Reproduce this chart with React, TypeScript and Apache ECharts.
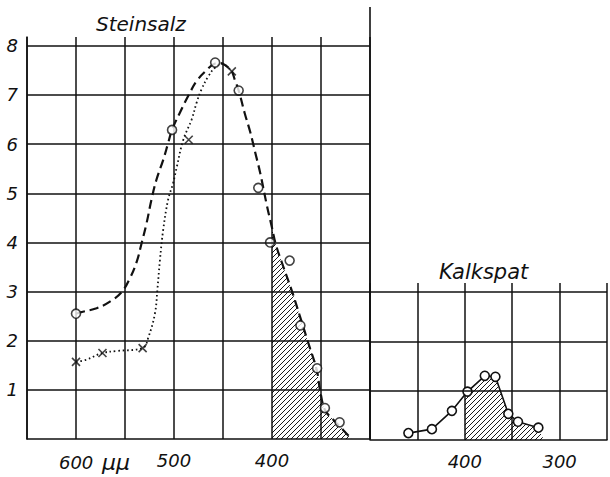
import React, { useEffect, useRef } from 'react';
import * as echarts from 'echarts';

// ---------- axis ticks / labels ----------
const yTicksLeft = [1, 2, 3, 4, 5, 6, 7, 8];
const yTicksRight = [1, 2, 3];
const xLabelsLeft = [600, 500, 400];
const xLabelsRight = [400, 300];

// ---------- Steinsalz: dashed curve ----------
const saltDashNm = [600, 593, 579, 565, 553, 545, 538, 533, 528, 523, 518, 511, 506, 502, 494, 485, 477, 468, 458, 453, 446, 441, 438, 434, 428, 422, 417, 412, 405, 400, 396, 388.5, 380, 371.4, 362.9, 354.4, 351, 345.9, 337.4, 327.2, 319];
const saltDashVal = [2.55, 2.59, 2.66, 2.8, 3.0, 3.27, 3.61, 3.99, 4.39, 4.87, 5.27, 5.68, 6.02, 6.29, 6.64, 7.0, 7.28, 7.48, 7.64, 7.65, 7.58, 7.48, 7.31, 7.09, 6.64, 6.23, 5.82, 5.41, 4.73, 4.3, 3.95, 3.51, 3.03, 2.49, 1.95, 1.41, 1.0, 0.59, 0.39, 0.18, 0];

// Steinsalz: dotted curve
const saltDotNm = [600, 590, 573, 558.5, 532, 526, 519.4, 517, 514.3, 511, 506, 501, 497, 490.5, 482, 477, 472, 465, 458, 451, 446, 441];
const saltDotVal = [1.57, 1.61, 1.75, 1.79, 1.85, 2.08, 2.56, 3.03, 3.65, 4.26, 4.87, 5.2, 5.55, 6.09, 6.5, 6.84, 7.11, 7.38, 7.56, 7.64, 7.58, 7.48];

// Steinsalz: measured points
const saltCircleNm = [600, 502, 458, 434, 414, 402, 382, 371, 354, 346, 331];
const saltCircleVal = [2.55, 6.29, 7.66, 7.09, 5.11, 4.0, 3.63, 2.31, 1.44, 0.63, 0.34];
const saltCrossNm = [600, 573, 532, 485, 441];
const saltCrossVal = [1.57, 1.75, 1.85, 6.09, 7.48];

// ---------- Kalkspat ----------
const calcNm = [459.5, 434.7, 413.6, 397.2, 378.9, 367.7, 354.1, 343.9, 322.4];
const calcVal = [0.14, 0.22, 0.59, 0.98, 1.3, 1.28, 0.53, 0.37, 0.25];
const calcHatchNm = [400, 397.2, 378.9, 367.7, 354.1, 343.9, 322.4, 316.6];
const calcHatchVal = [0.92, 0.98, 1.3, 1.28, 0.53, 0.37, 0.25, 0];

const zip = (a: number[], b: number[]) => a.map((v, i) => [v, b[i]]);

const FONT = 'DejaVu Sans';
const BLACK = '#111';

// layout of the two panels
const LEFT_X = 27;
const LEFT_W = 343;
const LEFT_TOP = 37;
const LEFT_H = 402;

export default function App() {
  const ref = useRef<HTMLDivElement>(null);

  useEffect(() => {
    document.body.style.margin = '0';
    const chart = echarts.init(ref.current!, null, { renderer: 'svg' });

    const c = document.createElement('canvas');
    c.width = 5;
    c.height = 5;
    const ctx = c.getContext('2d')!;
    ctx.strokeStyle = '#000';
    ctx.lineWidth = 0.9;
    ctx.beginPath();
    ctx.moveTo(-1, 6); ctx.lineTo(6, -1);
    ctx.moveTo(-1, 1); ctx.lineTo(1, -1);
    ctx.moveTo(4, 6); ctx.lineTo(6, 4);
    ctx.stroke();
    const hatch: any = { image: c, repeat: 'repeat', imageWidth: 5, imageHeight: 5 };

    const saltDash = zip(saltDashNm, saltDashVal);
    const saltHatch = saltDash.filter((p) => p[0] <= 400);

    const gridLine = { color: BLACK, width: 1.5, type: 'solid' as const };
    const labelBase = { color: BLACK, fontFamily: FONT, fontStyle: 'italic' as const };

    const option: any = {
      animation: false,
      backgroundColor: '#fff',
      title: [
        { text: 'Steinsalz', left: 96, top: 14, padding: 0, textStyle: { ...labelBase, fontSize: 20, fontWeight: 'normal' } },
        { text: 'Kalkspat', left: 439, top: 261, padding: 0, textStyle: { ...labelBase, fontSize: 21, fontWeight: 'normal' } },
      ],
      graphic: [
        {
          type: 'line', silent: true, z: 10,
          shape: { x1: LEFT_X + LEFT_W, y1: 7, x2: LEFT_X + LEFT_W, y2: LEFT_TOP + LEFT_H },
          style: { stroke: BLACK, lineWidth: 1.6 },
        },
      ],
      grid: [
        { left: LEFT_X, top: LEFT_TOP, width: LEFT_W, height: LEFT_H },
        { left: LEFT_X + LEFT_W, top: 283, width: 245, height: 157 },
      ],
      xAxis: [
        {
          gridIndex: 0, type: 'value', min: 300, max: 650, interval: 50, inverse: true,
          axisLine: { show: true, lineStyle: gridLine },
          axisTick: { show: false },
          splitLine: { show: true, lineStyle: gridLine },
          axisLabel: {
            ...labelBase, fontSize: 18, margin: 12,
            formatter: (v: number) => (v === 600 ? '{pad|}600 {u|μμ}' : xLabelsLeft.includes(v) ? String(v) : ''),
            rich: {
              pad: { width: 40 },
              u: { ...labelBase, fontSize: 22, width: 34 },
            },
          },
        },
        {
          gridIndex: 1, type: 'value', min: 250, max: 500, interval: 50, inverse: true,
          axisLine: { show: true, lineStyle: gridLine },
          axisTick: { show: false },
          splitLine: { show: true, lineStyle: gridLine },
          axisLabel: {
            ...labelBase, fontSize: 18, margin: 12,
            formatter: (v: number) => (xLabelsRight.includes(v) ? String(v) : ''),
          },
        },
      ],
      yAxis: [
        {
          gridIndex: 0, type: 'value', min: 0, max: 8.18, interval: 1,
          axisLine: { show: true, lineStyle: gridLine },
          axisTick: { show: false },
          splitLine: { show: false },
          axisLabel: {
            ...labelBase, fontSize: 18, margin: 9,
            formatter: (v: number) => (yTicksLeft.includes(v) ? String(v) : ''),
          },
        },
        {
          gridIndex: 1, type: 'value', min: 0, max: 3.18, interval: 1,
          axisLine: { show: false },
          axisTick: { show: false },
          splitLine: { show: false },
          axisLabel: { show: false },
        },
      ],
      series: [
        {
          name: 'gridLeft', type: 'line', xAxisIndex: 0, yAxisIndex: 0, data: [], z: 1, silent: true,
          markLine: {
            silent: true, symbol: ['none', 'none'], label: { show: false }, lineStyle: gridLine,
            emphasis: { disabled: true },
            data: yTicksLeft.map((v) => ({ yAxis: v })),
          },
        },
        {
          name: 'gridRight', type: 'line', xAxisIndex: 1, yAxisIndex: 1, data: [], z: 1, silent: true,
          markLine: {
            silent: true, symbol: ['none', 'none'], label: { show: false }, lineStyle: gridLine,
            emphasis: { disabled: true },
            data: yTicksRight.map((v) => ({ yAxis: v })),
          },
        },
        {
          name: 'saltHatch', type: 'line', xAxisIndex: 0, yAxisIndex: 0, z: 2, silent: true,
          data: saltHatch, smooth: 0.4, showSymbol: false,
          lineStyle: { opacity: 0 }, areaStyle: { color: hatch, opacity: 1 },
        },
        {
          name: 'saltDashed', type: 'line', xAxisIndex: 0, yAxisIndex: 0, z: 3, silent: true,
          data: saltDash, smooth: 0.4, showSymbol: false,
          lineStyle: { color: BLACK, width: 2.2, type: [9, 5] },
        },
        {
          name: 'saltDotted', type: 'line', xAxisIndex: 0, yAxisIndex: 0, z: 3, silent: true,
          data: zip(saltDotNm, saltDotVal), smooth: 0.4, showSymbol: false,
          lineStyle: { color: BLACK, width: 1.8, type: [1.6, 2.8] },
        },
        {
          name: 'saltCircles', type: 'scatter', xAxisIndex: 0, yAxisIndex: 0, z: 4, silent: true,
          data: zip(saltCircleNm, saltCircleVal), symbol: 'circle', symbolSize: 9,
          itemStyle: { color: '#fff', borderColor: BLACK, borderWidth: 1.6 },
        },
        {
          name: 'saltCrosses', type: 'scatter', xAxisIndex: 0, yAxisIndex: 0, z: 4, silent: true,
          data: zip(saltCrossNm, saltCrossVal), symbol: 'path://M0,0L10,10M10,0L0,10', symbolSize: 8,
          itemStyle: { color: 'none', borderColor: BLACK, borderWidth: 1.6 },
        },
        {
          name: 'calcHatch', type: 'line', xAxisIndex: 1, yAxisIndex: 1, z: 2, silent: true,
          data: zip(calcHatchNm, calcHatchVal), showSymbol: false,
          lineStyle: { opacity: 0 }, areaStyle: { color: hatch, opacity: 1 },
        },
        {
          name: 'calcLine', type: 'line', xAxisIndex: 1, yAxisIndex: 1, z: 4, silent: true,
          data: zip(calcNm, calcVal), symbol: 'circle', symbolSize: 9, showSymbol: true,
          lineStyle: { color: BLACK, width: 1.6 },
          itemStyle: { color: '#fff', borderColor: BLACK, borderWidth: 1.6 },
        },
      ],
    };

    chart.setOption(option);
    return () => chart.dispose();
  }, []);

  return (
    <div
      ref={ref}
      style={{ width: 610, height: 477, position: 'absolute', left: 0, top: 0, background: '#fff' }}
    />
  );
}
